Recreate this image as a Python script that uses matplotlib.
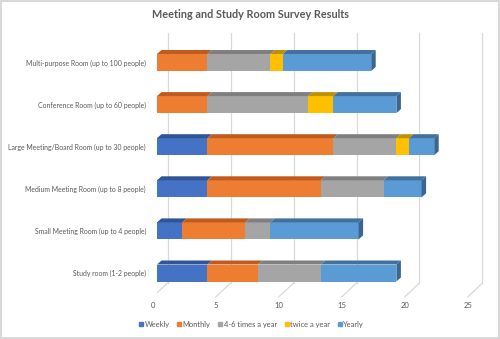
import matplotlib.pyplot as plt
from matplotlib.patches import Polygon
from matplotlib.lines import Line2D

plt.rcParams["font.family"] = ["Lato", "DejaVu Sans"]

rooms = [
    "Study room (1-2 people)",
    "Small Meeting Room (up to 4 people)",
    "Medium Meeting Room (up to 8 people)",
    "Large Meeting/Board Room (up to 30 people)",
    "Conference Room (up to 60 people)",
    "Multi-purpose Room (up to 100 people)",
]
series = ["Weekly", "Monthly", "4-6 times a year", "twice a year", "Yearly"]
weekly = [4, 2, 4, 4, 0, 0]
monthly = [4, 5, 9, 10, 4, 4]
four_six = [5, 2, 5, 5, 8, 5]
twice = [0, 0, 0, 1, 2, 1]
yearly = [6, 7, 3, 2, 5, 7]
values = [weekly, monthly, four_six, twice, yearly]
xticks = [0, 5, 10, 15, 20, 25]

front = ["#4472C4", "#ED7D31", "#A5A5A5", "#FFC000", "#5B9BD5"]
top = ["#2F5597", "#C05A1E", "#7F7F7F", "#BF9000", "#41719C"]
side = "#3A6690"
text_col = "#595959"
grid_col = "#D9D9D9"

W, H = 500, 339
fig = plt.figure(figsize=(5, 3.39), dpi=100)
fig.patch.set_edgecolor(grid_col)
fig.patch.set_linewidth(1.5)

# axes placed in pixel terms: x=0 at px 157, 12.6 px per unit; rows 42.1 px apart
px_x, px_row = 12.6, 42.1
ax_l, ax_r, ax_t, ax_b = 157, 490, 30, 300
ax = fig.add_axes([ax_l / W, 1 - ax_b / H, (ax_r - ax_l) / W, (ax_b - ax_t) / H])
ax.set_xlim(0, (ax_r - ax_l) / px_x)
y_top_row = 62.5
ax.set_ylim(5 - (ax_b - y_top_row) / px_row, 5 + (y_top_row - ax_t) / px_row)
for s in ax.spines.values():
    s.set_visible(False)


def ypx(p):
    return 5 + (y_top_row - p) / px_row


# back-wall gridlines and floor
back = 10.5 / px_x
for v in xticks:
    ax.plot([v + back, v + back], [ypx(283), ypx(33)], color=grid_col, lw=0.9, zorder=0)
    ax.plot([v - 4.3 / px_x, v + back], [ypx(297), ypx(283)], color=grid_col, lw=0.9, zorder=0)
    ax.text(v - 4 / px_x, ypx(306), str(v), ha="center", va="center",
            fontsize=5.5, color=text_col, clip_on=False)

h = 17 / px_row
dx = 4.5 / px_x
dy = 4 / px_row
rows = list(range(len(rooms)))
lefts = [0] * len(rooms)
for i, vals in enumerate(values):
    ax.barh(rows, vals, left=lefts, height=h, color=front[i], zorder=2, label=series[i])
    for r in rows:
        if vals[r] > 0:
            x0, x1, yt = lefts[r], lefts[r] + vals[r], r + h / 2
            ax.add_patch(Polygon([(x0, yt), (x0 + dx, yt + dy), (x1 + dx, yt + dy), (x1, yt)],
                                 closed=True, facecolor=top[i], edgecolor="none", zorder=2))
    lefts = [a + b for a, b in zip(lefts, vals)]

for r in rows:
    end = lefts[r]
    ax.add_patch(Polygon([(end, r - h / 2), (end, r + h / 2), (end + dx, r + h / 2 + dy),
                          (end + dx, r - h / 2 + dy)],
                         closed=True, facecolor=side, edgecolor="none", zorder=2))

ax.set_yticks(rows)
ax.set_yticklabels(rooms, fontsize=4.95, color=text_col)
ax.tick_params(axis="y", length=0, pad=8)
ax.set_xticks([])

fig.text(0.5, 1 - 15 / H, "Meeting and Study Room Survey Results", ha="center", va="center",
         fontsize=7.8, fontweight="bold", color=text_col)

handles = [Line2D([], [], marker="s", linestyle="none", markersize=3, color=c) for c in front]
fig.legend(handles, series, loc="center", bbox_to_anchor=(0.502, 1 - 324 / H), ncol=5,
           frameon=False, fontsize=5.4, labelcolor=text_col, handletextpad=0.05,
           columnspacing=0.9, handlelength=0.8)

fig.savefig("out.png", dpi=100)
